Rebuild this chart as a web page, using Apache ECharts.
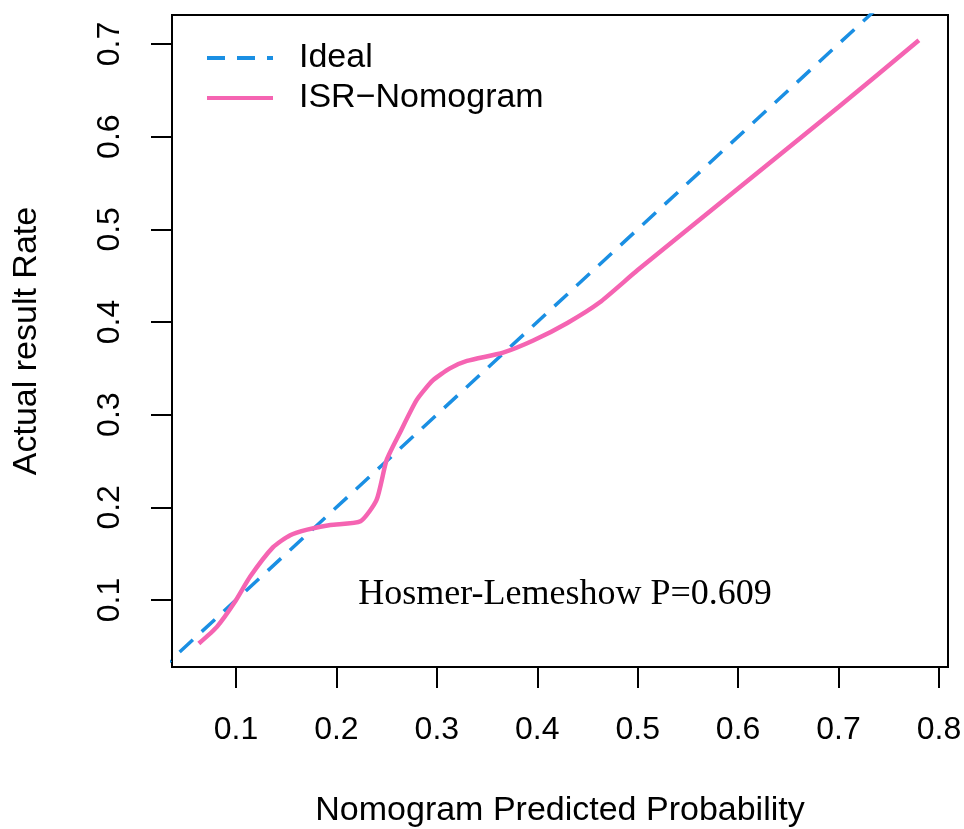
<!DOCTYPE html>
<html>
<head>
<meta charset="utf-8">
<script src="https://cdn.jsdelivr.net/npm/echarts@6/dist/echarts.min.js"></script>
<style>
  html, body { margin: 0; padding: 0; background: #fff; }
  #chart { width: 964px; height: 829px; }
</style>
</head>
<body>
<div id="chart"></div>
<script>
// calibration curve
var predicted = [0.063, 0.081, 0.099, 0.114, 0.137, 0.154, 0.171, 0.194, 0.224, 0.240, 0.250, 0.263, 0.280, 0.296, 0.313, 0.330, 0.366, 0.396, 0.430, 0.462, 0.500, 0.600, 0.700, 0.780]
var actual = [0.053, 0.071, 0.098, 0.125, 0.157, 0.170, 0.176, 0.181, 0.185, 0.208, 0.251, 0.280, 0.316, 0.337, 0.350, 0.358, 0.367, 0.380, 0.399, 0.421, 0.456, 0.544, 0.632, 0.704]
// ideal diagonal
var idealX = [0, 1]
var idealY = [0, 1]
var xTicks = [0.1, 0.2, 0.3, 0.4, 0.5, 0.6, 0.7, 0.8]
var yTicks = [0.1, 0.2, 0.3, 0.4, 0.5, 0.6, 0.7]
var seriesNames = ['Ideal', 'ISR\u2212Nomogram']
var pValueText = 'Hosmer-Lemeshow P=0.609'

var chart = echarts.init(document.getElementById('chart'))

var sans = 'Liberation Sans, Arial, sans-serif'
var pairs = function (xs, ys) {
  return xs.map(function (x, i) { return [x, ys[i]] })
}

var option = {
  animation: false,
  grid: {
    left: 172,
    top: 15,
    right: 16,
    bottom: 162,
    // keep the box where it is, the title may touch the bottom edge
    outerBoundsMode: 'none',
    show: true,
    borderColor: '#000',
    borderWidth: 2
  },
  legend: {
    orient: 'vertical',
    left: 200,
    top: 36,
    itemWidth: 66,
    itemHeight: 14,
    itemGap: 6,
    data: seriesNames,
    // hide the dot that echarts puts on line icons
    itemStyle: { opacity: 0 },
    lineStyle: { width: 4 },
    textStyle: {
      fontFamily: sans,
      fontSize: 34,
      color: '#000',
      padding: [0, 0, 0, 21]
    }
  },
  xAxis: {
    type: 'value',
    min: 0.0363,
    max: 0.809,
    name: 'Nomogram Predicted Probability',
    nameLocation: 'middle',
    nameGap: 127,
    nameTextStyle: { fontFamily: sans, fontSize: 34, color: '#000' },
    splitLine: { show: false },
    axisLine: { show: false },
    axisTick: {
      show: true,
      length: 21,
      customValues: xTicks,
      lineStyle: { color: '#000', width: 2 }
    },
    axisLabel: {
      customValues: xTicks,
      margin: 47,
      fontFamily: sans,
      fontSize: 32,
      color: '#000',
      formatter: function (v) { return v.toFixed(1) }
    }
  },
  yAxis: {
    type: 'value',
    min: 0.0277,
    max: 0.7313,
    name: 'Actual result Rate',
    nameLocation: 'middle',
    nameGap: 128,
    nameRotate: 90,
    nameTextStyle: { fontFamily: sans, fontSize: 34, color: '#000' },
    splitLine: { show: false },
    axisLine: { show: false },
    axisTick: {
      show: true,
      length: 21,
      customValues: yTicks,
      lineStyle: { color: '#000', width: 2 }
    },
    axisLabel: {
      customValues: yTicks,
      rotate: 90,
      margin: 46,
      fontFamily: sans,
      fontSize: 32,
      color: '#000',
      formatter: function (v) { return v.toFixed(1) }
    }
  },
  graphic: [
    {
      type: 'text',
      x: 565,
      y: 595,
      style: {
        text: pValueText,
        font: '36px "Liberation Serif", "Times New Roman", serif',
        fill: '#000',
        textAlign: 'center',
        textVerticalAlign: 'middle'
      }
    }
  ],
  series: [
    {
      name: seriesNames[0],
      type: 'line',
      data: pairs(idealX, idealY),
      symbol: 'none',
      clip: true,
      lineStyle: { color: '#1A8FE3', width: 3.5, type: [18, 12] },
      itemStyle: { color: '#1A8FE3' }
    },
    {
      name: seriesNames[1],
      type: 'line',
      data: pairs(predicted, actual),
      symbol: 'none',
      smooth: 0.2,
      lineStyle: { color: '#F564B2', width: 4.5 },
      itemStyle: { color: '#F564B2' }
    }
  ]
}
chart.setOption(option)
window.onresize = chart.resize
</script>
</body>
</html>
